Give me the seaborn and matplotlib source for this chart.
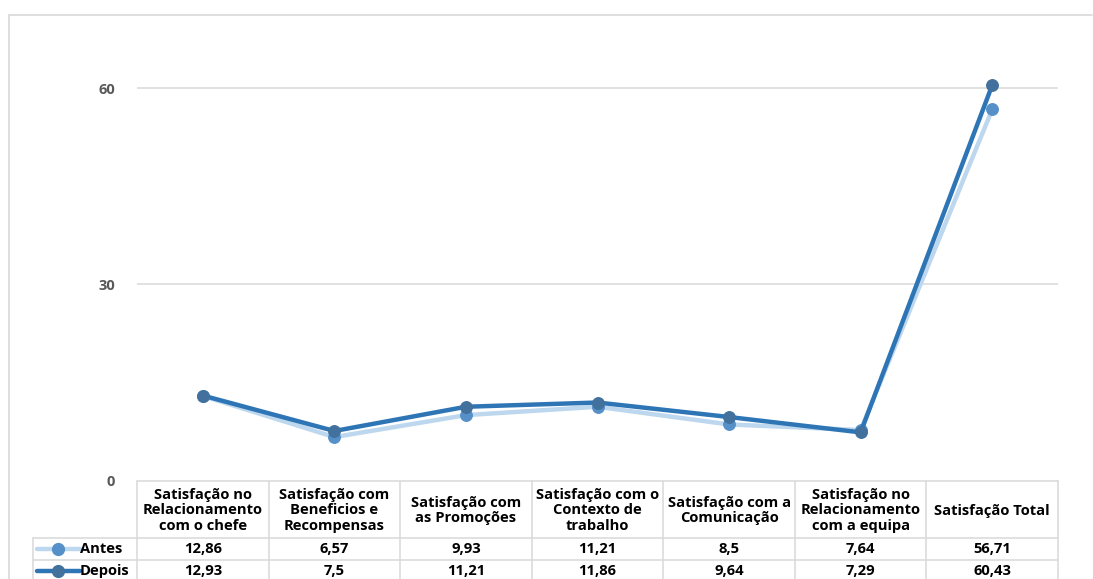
import matplotlib
matplotlib.use("Agg")
import matplotlib.pyplot as plt
from matplotlib.lines import Line2D
import seaborn as sns
import pandas as pd

# Chart data
categorias = [
    "Satisfação no\nRelacionamento\ncom o chefe",
    "Satisfação com\nBeneficios e\nRecompensas",
    "Satisfação com\nas Promoções",
    "Satisfação com o\nContexto de\ntrabalho",
    "Satisfação com a\nComunicação",
    "Satisfação no\nRelacionamento\ncom a equipa",
    "Satisfação Total",
]
antes = [12.86, 6.57, 9.93, 11.21, 8.5, 7.64, 56.71]
depois = [12.93, 7.5, 11.21, 11.86, 9.64, 7.29, 60.43]
y_ticks = [0, 30, 60]

W, H = 1093, 579
sns.set_theme(style="white")
plt.rcParams["font.family"] = ["Open Sans", "DejaVu Sans"]

fig = plt.figure(figsize=(W / 100, H / 100), dpi=100)


def fx(px):
    return px / W


def fy(py):
    return 1 - py / H


# plot area geometry (pixels)
left_px, right_px = 137, 1058
bottom_px, top_px = 480, 20
px_per_unit = 196 / 30

ax = fig.add_axes([fx(left_px), fy(bottom_px), fx(right_px - left_px),
                   (bottom_px - top_px) / H])
ax.set_xlim(-0.5, len(categorias) - 0.5)
ax.set_ylim(0, (bottom_px - top_px) / px_per_unit)

grid_col = "#D9D9D9"
for t in y_ticks[1:]:
    ax.axhline(t, color=grid_col, lw=1.1, zorder=0)

series = [
    ("Antes", antes, "#BDD7EE", "#5590C8"),
    ("Depois", depois, "#2E75B6", "#41719C"),
]

df = pd.DataFrame({"x": range(len(categorias)), "Antes": antes, "Depois": depois})
for name, vals, lc, mc in series:
    sns.lineplot(data=df, x="x", y=name, ax=ax, color=lc, lw=3.2,
                 marker="o", markersize=8.5, markerfacecolor=mc,
                 markeredgecolor=mc, zorder=3, clip_on=False)

ax.set_xticks([])
ax.set_yticks(y_ticks)
ax.set_yticklabels([str(t) for t in y_ticks], fontweight="bold",
                   color="#595959", fontsize=10.5)
ax.tick_params(axis="y", length=0, pad=16)
ax.set_xlabel("")
ax.set_ylabel("")
for s in ax.spines.values():
    s.set_visible(False)
ax.patch.set_alpha(0)

# outer chart border
border = "#D9D9D9"
fig.add_artist(Line2D([fx(9), fx(1092)], [fy(15), fy(15)], color=border, lw=1.2))
fig.add_artist(Line2D([fx(9), fx(9)], [fy(15), fy(579)], color=border, lw=1.2))

# data table
col_w = (right_px - left_px) / len(categorias)
hdr_top, row1_top, row2_top, row2_bot = 481, 538, 560, 582
leg_left = 33

fig.add_artist(Line2D([fx(left_px), fx(right_px)], [fy(hdr_top)] * 2, color=grid_col, lw=1.1))
for yy in (row1_top, row2_top):
    fig.add_artist(Line2D([fx(leg_left), fx(right_px)], [fy(yy)] * 2, color=grid_col, lw=1.1))
for i in range(len(categorias) + 1):
    xx = left_px + i * col_w
    fig.add_artist(Line2D([fx(xx)] * 2, [fy(hdr_top), fy(row2_bot)], color=grid_col, lw=1.1))
fig.add_artist(Line2D([fx(leg_left)] * 2, [fy(row1_top), fy(row2_bot)], color=grid_col, lw=1.1))

txt_kw = dict(fontsize=10.6, fontweight="bold", color="black", ha="center", va="center")
for i, cat in enumerate(categorias):
    cx = left_px + (i + 0.5) * col_w
    fig.text(fx(cx), fy((hdr_top + row1_top) / 2 + 1), cat, linespacing=1.12, **txt_kw)


def fmt(v):
    return f"{v:g}".replace(".", ",")


for (name, vals, lc, mc), (t, b) in zip(series, [(row1_top, row2_top), (row2_top, row2_bot)]):
    cy = (t + b) / 2
    for i, v in enumerate(vals):
        cx = left_px + (i + 0.5) * col_w
        fig.text(fx(cx), fy(cy), fmt(v), **txt_kw)
    fig.add_artist(Line2D([fx(37), fx(80)], [fy(cy)] * 2, color=lc, lw=3.2))
    fig.add_artist(Line2D([fx(58)], [fy(cy)], marker="o", markersize=8.5,
                          markerfacecolor=mc, markeredgecolor=mc, lw=0))
    fig.text(fx(80), fy(cy), name, fontsize=10.6, fontweight="bold",
             color="black", ha="left", va="center")

fig.savefig("out.png", dpi=100, facecolor="white")
